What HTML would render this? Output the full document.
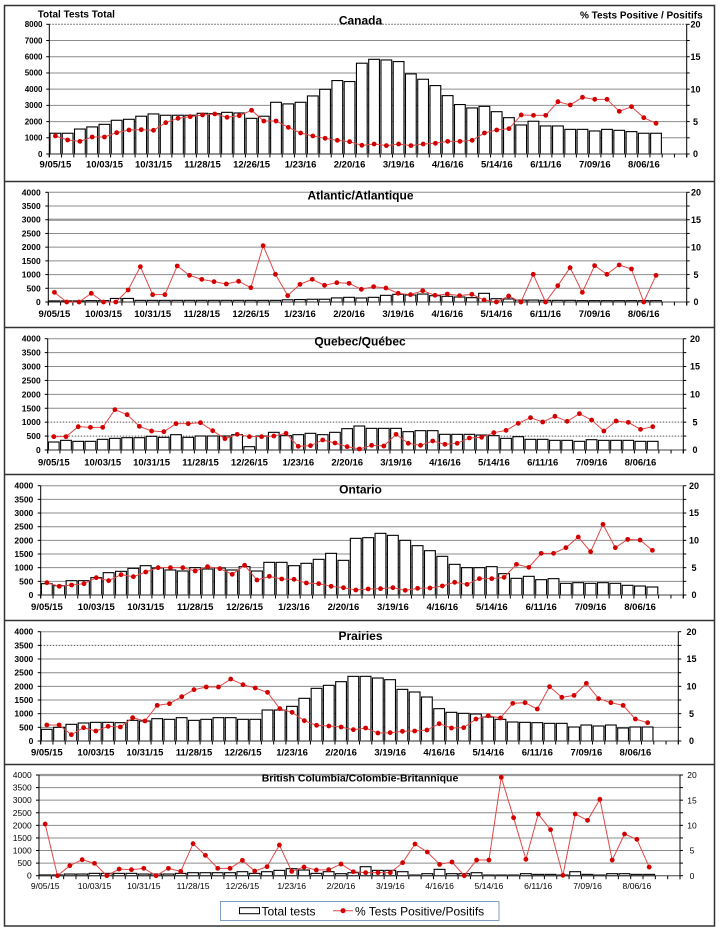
<!DOCTYPE html>
<html><head><meta charset="utf-8">
<style>
html,body{margin:0;padding:0;background:#fff;}
svg{display:block;}
text{font-family:"Liberation Sans",Arial,sans-serif;fill:#000;}
.yl{font-size:8.5px;font-weight:bold;text-anchor:end;}
.ylc{font-size:8px;font-weight:bold;text-anchor:end;}
.ylb{font-size:8.5px;text-anchor:end;}
.rl{font-size:9px;font-weight:bold;text-anchor:middle;}
.rlb{font-size:8.5px;text-anchor:middle;}
.xl{font-size:9.5px;font-weight:bold;text-anchor:middle;}
.xlb{font-size:8.6px;text-anchor:middle;}
.tt{font-size:12px;font-weight:bold;text-anchor:middle;}
</style></head>
<body>
<svg id="s" width="720" height="930" viewBox="0 0 720 930" xmlns="http://www.w3.org/2000/svg">
<rect x="0" y="0" width="720" height="930" fill="#fff"/>
<g id="g"></g>
<!-- frame -->
<rect x="4.5" y="5.5" width="710.5" height="420.5" fill="none" stroke="none"/>
<rect x="4.5" y="5.5" width="710" height="920.5" fill="none" stroke="#333" stroke-width="1.5"/>
<line x1="4.5" x2="714.5" y1="181.5" y2="181.5" stroke="#333" stroke-width="1.5"/>
<line x1="4.5" x2="714.5" y1="327.5" y2="327.5" stroke="#333" stroke-width="1.5"/>
<line x1="4.5" x2="714.5" y1="474.5" y2="474.5" stroke="#333" stroke-width="1.5"/>
<line x1="4.5" x2="714.5" y1="620.5" y2="620.5" stroke="#333" stroke-width="1.5"/>
<line x1="4.5" x2="714.5" y1="764.5" y2="764.5" stroke="#333" stroke-width="1.5"/>

<!-- Canada -->
<text x="37.7" y="17.3" style="font-size:10px;font-weight:bold">Total Tests Total</text>
<text x="580" y="18.5" style="font-size:10px;font-weight:bold">% Tests Positive / Positifs</text>
<text class="tt" x="360.5" y="24.5">Canada</text>
<text class="ylc" x="42.5" y="156.8">0</text>
<text class="ylc" x="42.5" y="140.6">1000</text>
<text class="ylc" x="42.5" y="124.4">2000</text>
<text class="ylc" x="42.5" y="108.2">3000</text>
<text class="ylc" x="42.5" y="91.9">4000</text>
<text class="ylc" x="42.5" y="75.7">5000</text>
<text class="ylc" x="42.5" y="59.5">6000</text>
<text class="ylc" x="42.5" y="43.3">7000</text>
<text class="ylc" x="42.5" y="27.1">8000</text>
<text class="rl" x="695.5" y="157.2">0</text>
<text class="rl" x="695.5" y="124.8">5</text>
<text class="rl" x="695.5" y="92.4">10</text>
<text class="rl" x="695.5" y="59.9">15</text>
<text class="rl" x="695.5" y="27.5">20</text>
<text class="xl" x="55.4" y="167.5">9/05/15</text>
<text class="xl" x="104.5" y="167.5">10/03/15</text>
<text class="xl" x="153.5" y="167.5">10/31/15</text>
<text class="xl" x="202.5" y="167.5">11/28/15</text>
<text class="xl" x="251.6" y="167.5">12/26/15</text>
<text class="xl" x="300.6" y="167.5">1/23/16</text>
<text class="xl" x="349.6" y="167.5">2/20/16</text>
<text class="xl" x="398.7" y="167.5">3/19/16</text>
<text class="xl" x="447.7" y="167.5">4/16/16</text>
<text class="xl" x="496.8" y="167.5">5/14/16</text>
<text class="xl" x="545.8" y="167.5">6/11/16</text>
<text class="xl" x="594.8" y="167.5">7/09/16</text>
<text class="xl" x="643.9" y="167.5">8/06/16</text>

<!-- Atlantic -->
<text class="tt" x="360.5" y="199.5">Atlantic/Atlantique</text>
<text class="yl" x="40.7" y="305">0</text>
<text class="yl" x="40.7" y="291.3">500</text>
<text class="yl" x="40.7" y="277.6">1000</text>
<text class="yl" x="40.7" y="263.9">1500</text>
<text class="yl" x="40.7" y="250.2">2000</text>
<text class="yl" x="40.7" y="236.4">2500</text>
<text class="yl" x="40.7" y="222.7">3000</text>
<text class="yl" x="40.7" y="209.0">3500</text>
<text class="yl" x="40.7" y="195.3">4000</text>
<text class="rl" x="696" y="305.2">0</text>
<text class="rl" x="696" y="277.8">5</text>
<text class="rl" x="696" y="250.4">10</text>
<text class="rl" x="696" y="222.9">15</text>
<text class="rl" x="696" y="195.5">20</text>
<text class="xl" x="54.4" y="317">9/05/15</text>
<text class="xl" x="103.6" y="317">10/03/15</text>
<text class="xl" x="152.7" y="317">10/31/15</text>
<text class="xl" x="201.8" y="317">11/28/15</text>
<text class="xl" x="250.9" y="317">12/26/15</text>
<text class="xl" x="300" y="317">1/23/16</text>
<text class="xl" x="349.1" y="317">2/20/16</text>
<text class="xl" x="398.2" y="317">3/19/16</text>
<text class="xl" x="447.3" y="317">4/16/16</text>
<text class="xl" x="496.4" y="317">5/14/16</text>
<text class="xl" x="545.5" y="317">6/11/16</text>
<text class="xl" x="594.6" y="317">7/09/16</text>
<text class="xl" x="643.7" y="317">8/06/16</text>

<!-- Quebec -->
<text class="tt" x="360" y="345.5">Quebec/Québec</text>
<text class="yl" x="40.7" y="453">0</text>
<text class="yl" x="40.7" y="439.1">500</text>
<text class="yl" x="40.7" y="425.2">1000</text>
<text class="yl" x="40.7" y="411.3">1500</text>
<text class="yl" x="40.7" y="397.4">2000</text>
<text class="yl" x="40.7" y="383.4">2500</text>
<text class="yl" x="40.7" y="369.5">3000</text>
<text class="yl" x="40.7" y="355.6">3500</text>
<text class="yl" x="40.7" y="341.7">4000</text>
<text class="rl" x="695" y="453.2">0</text>
<text class="rl" x="695" y="425.4">5</text>
<text class="rl" x="695" y="397.6">10</text>
<text class="rl" x="695" y="369.7">15</text>
<text class="rl" x="695" y="341.9">20</text>
<text class="xl" x="53.8" y="465.5">9/05/15</text>
<text class="xl" x="102.7" y="465.5">10/03/15</text>
<text class="xl" x="151.6" y="465.5">10/31/15</text>
<text class="xl" x="200.5" y="465.5">11/28/15</text>
<text class="xl" x="249.4" y="465.5">12/26/15</text>
<text class="xl" x="298.3" y="465.5">1/23/16</text>
<text class="xl" x="347.2" y="465.5">2/20/16</text>
<text class="xl" x="396.1" y="465.5">3/19/16</text>
<text class="xl" x="445" y="465.5">4/16/16</text>
<text class="xl" x="493.9" y="465.5">5/14/16</text>
<text class="xl" x="542.7" y="465.5">6/11/16</text>
<text class="xl" x="591.6" y="465.5">7/09/16</text>
<text class="xl" x="640.5" y="465.5">8/06/16</text>

<!-- Ontario -->
<text class="tt" x="360.5" y="493.5">Ontario</text>
<text class="yl" x="33.3" y="598">0</text>
<text class="yl" x="33.3" y="584.3">500</text>
<text class="yl" x="33.3" y="570.7">1000</text>
<text class="yl" x="33.3" y="557.0">1500</text>
<text class="yl" x="33.3" y="543.4">2000</text>
<text class="yl" x="33.3" y="529.7">2500</text>
<text class="yl" x="33.3" y="516.0">3000</text>
<text class="yl" x="33.3" y="502.4">3500</text>
<text class="yl" x="33.3" y="488.7">4000</text>
<text class="rl" x="694" y="598.2">0</text>
<text class="rl" x="694" y="570.9">5</text>
<text class="rl" x="694" y="543.6">10</text>
<text class="rl" x="694" y="516.2">15</text>
<text class="rl" x="694" y="488.9">20</text>
<text class="xl" x="46.9" y="610">9/05/15</text>
<text class="xl" x="96.3" y="610">10/03/15</text>
<text class="xl" x="145.7" y="610">10/31/15</text>
<text class="xl" x="195.2" y="610">11/28/15</text>
<text class="xl" x="244.6" y="610">12/26/15</text>
<text class="xl" x="294" y="610">1/23/16</text>
<text class="xl" x="343.5" y="610">2/20/16</text>
<text class="xl" x="392.9" y="610">3/19/16</text>
<text class="xl" x="442.3" y="610">4/16/16</text>
<text class="xl" x="491.8" y="610">5/14/16</text>
<text class="xl" x="541.2" y="610">6/11/16</text>
<text class="xl" x="590.6" y="610">7/09/16</text>
<text class="xl" x="640.1" y="610">8/06/16</text>

<!-- Prairies -->
<text class="tt" x="360.5" y="640">Prairies</text>
<text class="yl" x="33.3" y="744">0</text>
<text class="yl" x="33.3" y="730.3">500</text>
<text class="yl" x="33.3" y="716.7">1000</text>
<text class="yl" x="33.3" y="703.0">1500</text>
<text class="yl" x="33.3" y="689.4">2000</text>
<text class="yl" x="33.3" y="675.7">2500</text>
<text class="yl" x="33.3" y="662.0">3000</text>
<text class="yl" x="33.3" y="648.4">3500</text>
<text class="yl" x="33.3" y="634.7">4000</text>
<text class="rl" x="691.5" y="744.2">0</text>
<text class="rl" x="691.5" y="716.9">5</text>
<text class="rl" x="691.5" y="689.6">10</text>
<text class="rl" x="691.5" y="662.2">15</text>
<text class="rl" x="691.5" y="634.9">20</text>
<text class="xl" x="46.8" y="755.7">9/05/15</text>
<text class="xl" x="95.9" y="755.7">10/03/15</text>
<text class="xl" x="144.9" y="755.7">10/31/15</text>
<text class="xl" x="194" y="755.7">11/28/15</text>
<text class="xl" x="243" y="755.7">12/26/15</text>
<text class="xl" x="292.1" y="755.7">1/23/16</text>
<text class="xl" x="341.1" y="755.7">2/20/16</text>
<text class="xl" x="390.2" y="755.7">3/19/16</text>
<text class="xl" x="439.2" y="755.7">4/16/16</text>
<text class="xl" x="488.3" y="755.7">5/14/16</text>
<text class="xl" x="537.3" y="755.7">6/11/16</text>
<text class="xl" x="586.4" y="755.7">7/09/16</text>
<text class="xl" x="635.4" y="755.7">8/06/16</text>

<!-- BC -->
<text x="360" y="781.5" style="font-size:10.5px;font-weight:bold;text-anchor:middle">British Columbia/Colombie-Britannique</text>
<text class="ylb" x="31.7" y="878.7">0</text>
<text class="ylb" x="31.7" y="866.1">500</text>
<text class="ylb" x="31.7" y="853.5">1000</text>
<text class="ylb" x="31.7" y="840.9">1500</text>
<text class="ylb" x="31.7" y="828.4">2000</text>
<text class="ylb" x="31.7" y="815.8">2500</text>
<text class="ylb" x="31.7" y="803.2">3000</text>
<text class="ylb" x="31.7" y="790.6">3500</text>
<text class="ylb" x="31.7" y="778">4000</text>
<text class="rlb" x="692" y="878.9">0</text>
<text class="rlb" x="692" y="853.7">5</text>
<text class="rlb" x="692" y="828.6">10</text>
<text class="rlb" x="692" y="803.4">15</text>
<text class="rlb" x="692" y="778.2">20</text>
<text class="xlb" x="45.2" y="889">9/05/15</text>
<text class="xlb" x="94.5" y="889">10/03/15</text>
<text class="xlb" x="143.8" y="889">10/31/15</text>
<text class="xlb" x="193.1" y="889">11/28/15</text>
<text class="xlb" x="242.4" y="889">12/26/15</text>
<text class="xlb" x="291.7" y="889">1/23/16</text>
<text class="xlb" x="341" y="889">2/20/16</text>
<text class="xlb" x="390.3" y="889">3/19/16</text>
<text class="xlb" x="439.6" y="889">4/16/16</text>
<text class="xlb" x="488.9" y="889">5/14/16</text>
<text class="xlb" x="538.2" y="889">6/11/16</text>
<text class="xlb" x="587.6" y="889">7/09/16</text>
<text class="xlb" x="636.9" y="889">8/06/16</text>

<!-- Legend -->
<rect x="220.5" y="901.5" width="278.5" height="19" fill="#fff" stroke="#7f9fc0" stroke-width="1"/>
<rect x="239.5" y="907.7" width="20" height="6" fill="#fff" stroke="#000" stroke-width="1"/>
<text x="261.5" y="915.5" style="font-size:12px">Total tests</text>
<line x1="333" x2="353" y1="910.7" y2="910.7" stroke="#e04848" stroke-width="1"/>
<circle cx="343" cy="910.7" r="2.5" fill="#d40000"/>
<text x="355" y="915.5" style="font-size:12px">% Tests Positive/Positifs</text>
</svg>
<script>
(function(){
var NS='http://www.w3.org/2000/svg';
var g=document.getElementById('g');
function el(t,a){var e=document.createElementNS(NS,t);for(var k in a)e.setAttribute(k,a[k]);g.appendChild(e);return e;}
var P=[
{x0:49.3,x1:686.7,yt:24.3,yb:154,max:8000,step:1000,sp:{8000:'dot'},
bars:[1280,1280,1540,1670,1830,2080,2140,2330,2470,2390,2390,2390,2510,2490,2570,2530,2200,2330,3190,3090,3190,3580,3990,4530,4470,5600,5840,5800,5700,4940,4610,4220,3600,3050,2840,2940,2610,2240,1790,2020,1730,1730,1520,1520,1420,1520,1460,1380,1280,1280],
pct:[2.78,2.16,1.95,2.62,2.62,3.29,3.70,3.75,3.65,4.83,5.50,5.76,6.02,6.17,5.66,5.91,6.74,5.09,5.09,4.11,3.24,2.78,2.42,2.11,1.90,1.34,1.54,1.29,1.54,1.29,1.54,1.65,1.95,1.95,2.11,3.24,3.70,3.91,6.02,5.96,5.96,8.07,7.56,8.74,8.43,8.43,6.58,7.30,5.60,4.73]},
{x0:48.3,x1:686.7,yt:192.3,yb:302,max:4000,step:500,sp:{3000:'thick'},
bars:[40,40,40,50,50,130,130,60,60,60,60,60,60,60,60,60,60,60,60,80,90,100,100,150,170,146,170,243,280,255,290,230,207,182,158,316,120,110,70,70,60,60,60,50,50,50,50,50,50,50],
pct:[1.76,0,0,1.58,0,0,2.19,6.44,1.34,1.34,6.57,4.86,4.13,3.71,3.28,3.77,2.61,10.27,5.05,1.16,3.22,4.13,3.04,3.53,3.40,2.31,2.80,2.55,1.58,1.34,2.07,1.22,1.46,1.16,1.40,0.36,0,1.09,0,5.05,0,2.98,6.26,1.76,6.63,5.05,6.75,6.02,0,4.86]},
{x0:47.7,x1:683.3,yt:338.7,yb:450,max:4000,step:500,sp:{500:'dot',1000:'dot'},
bars:[287,347,311,311,383,419,443,443,491,455,551,455,503,503,503,551,120,503,635,515,551,599,551,635,767,862,778,778,778,659,695,695,563,563,563,539,515,419,479,383,383,347,347,311,371,347,347,347,311,311],
pct:[2.40,2.40,4.19,4.07,4.07,7.25,6.35,4.25,3.41,3.29,4.73,4.73,4.91,3.47,2.04,2.81,2.40,2.40,2.51,2.99,0.66,0.78,1.80,1.26,0.60,0.18,0.84,0.72,2.81,1.20,0.84,1.62,1.02,1.20,2.16,2.28,3.11,3.53,4.79,5.81,5.03,6.05,5.15,6.53,5.39,3.41,5.21,4.97,3.71,4.19]},
{x0:40.7,x1:683.3,yt:485.7,yb:595,max:4000,step:500,sp:{},
bars:[415,341,524,524,634,817,866,976,1073,988,915,878,1000,951,988,915,1037,878,1195,1195,1073,1159,1305,1524,1268,2073,2098,2256,2183,2000,1805,1622,1415,1122,1000,1000,1037,780,610,683,561,598,427,451,427,451,427,354,329,293],
pct:[2.26,1.59,1.83,2.07,3.17,2.62,3.72,3.35,4.21,5.00,5.00,5.00,4.39,5.18,4.82,3.78,5.43,2.74,3.41,2.93,2.87,2.20,2.07,1.59,1.34,0.91,1.10,1.16,1.34,0.85,1.22,1.28,1.65,2.32,1.95,2.99,2.99,3.23,5.61,5.06,7.62,7.62,8.66,10.61,7.93,12.93,8.66,10.18,10.06,8.17]},
{x0:40.7,x1:678.3,yt:631.7,yb:741,max:4000,step:500,sp:{3500:'dot'},
bars:[427,500,610,659,683,683,671,756,732,817,793,854,756,793,854,854,793,793,1134,1134,1268,1561,1927,2037,2171,2366,2366,2305,2244,1890,1793,1610,1183,1049,1012,988,878,793,695,683,671,646,646,512,585,549,585,476,512,512],
pct:[2.93,2.93,1.16,2.44,1.83,2.68,2.56,4.27,3.66,6.52,6.83,8.11,9.39,9.88,9.88,11.34,10.30,9.70,8.90,5.91,5.24,3.72,2.87,2.74,2.56,2.07,2.38,1.46,1.52,1.77,1.83,2.01,3.17,2.38,2.44,4.02,4.63,4.21,6.89,7.01,5.85,9.94,7.99,8.35,10.55,7.74,7.01,6.52,4.02,3.35]},
{x0:39,x1:680,yt:775,yb:875.7,max:4000,step:500,sp:{4000:'thick'},
bars:[30,30,66,66,93,93,93,93,66,66,66,93,119,119,119,119,159,93,159,212,278,225,93,159,80,119,358,212,212,159,26,80,252,80,80,119,26,26,26,80,53,53,26,159,53,26,80,80,53,53],
pct:[10.26,0,1.99,3.18,2.45,0,1.32,1.19,1.46,0,1.46,0.86,6.36,4.04,1.46,1.46,3.05,0.93,1.79,6.09,0.86,1.72,1.13,1.19,2.32,0.79,0.60,0.60,0.60,2.58,6.29,4.70,2.25,2.72,0,3.11,3.11,19.54,11.52,3.25,12.25,9.14,0.07,12.25,10.99,15.17,3.11,8.28,7.22,1.72]}
];
P.forEach(function(p){
 var H=p.yb-p.yt, slot=(p.x1-p.x0)/52;
 function Y(v){return p.yb-v/p.max*H;}
 for(var v=p.step; v<=p.max+0.1; v+=p.step){
  var st=p.sp[v]||'n';
  var a={x1:p.x0,x2:p.x1,y1:Y(v),y2:Y(v),stroke:'#8c8c8c','stroke-width':1};
  if(st==='dot'){a.stroke='#555';a['stroke-dasharray']='1.5,1.5';}
  if(st==='thick'){a['stroke-width']=2.2;a.stroke='#999';}
  el('line',a);
 }
 p.bars.forEach(function(v,i){
  var h=v/p.max*H;
  el('rect',{x:p.x0+i*slot+0.7,y:p.yb-h,width:slot-1.5,height:h,fill:'#fff',stroke:'#000','stroke-width':1.1});
 });
 el('line',{x1:p.x0,x2:p.x1,y1:p.yb,y2:p.yb,stroke:'#444','stroke-width':1});
 for(var i=0;i<=52;i++){var x=p.x0+i*slot; el('line',{x1:x,x2:x,y1:p.yb,y2:p.yb+3.5,stroke:'#000','stroke-width':1});}
 el('line',{x1:p.x0,x2:p.x0,y1:p.yt,y2:p.yb+3.5,stroke:'#000','stroke-width':1});
 el('line',{x1:p.x1,x2:p.x1,y1:p.yt,y2:p.yb+3.5,stroke:'#000','stroke-width':1});
 for(var w=0; w<=p.max+0.1; w+=p.step){
  el('line',{x1:p.x0-3,x2:p.x0,y1:Y(w),y2:Y(w),stroke:'#000','stroke-width':1});
  el('line',{x1:p.x1,x2:p.x1+3,y1:Y(w),y2:Y(w),stroke:'#000','stroke-width':1});
 }
 var pts=p.pct.map(function(q,i){return [p.x0+(i+0.5)*slot, p.yb-q/20*H];});
 el('polyline',{points:pts.map(function(a){return a[0].toFixed(2)+','+a[1].toFixed(2);}).join(' '),fill:'none',stroke:'#e04848','stroke-width':1});
 pts.forEach(function(a){el('circle',{cx:a[0],cy:a[1],r:2.4,fill:'#d40000'});});
});
})();
</script>
</body></html>
